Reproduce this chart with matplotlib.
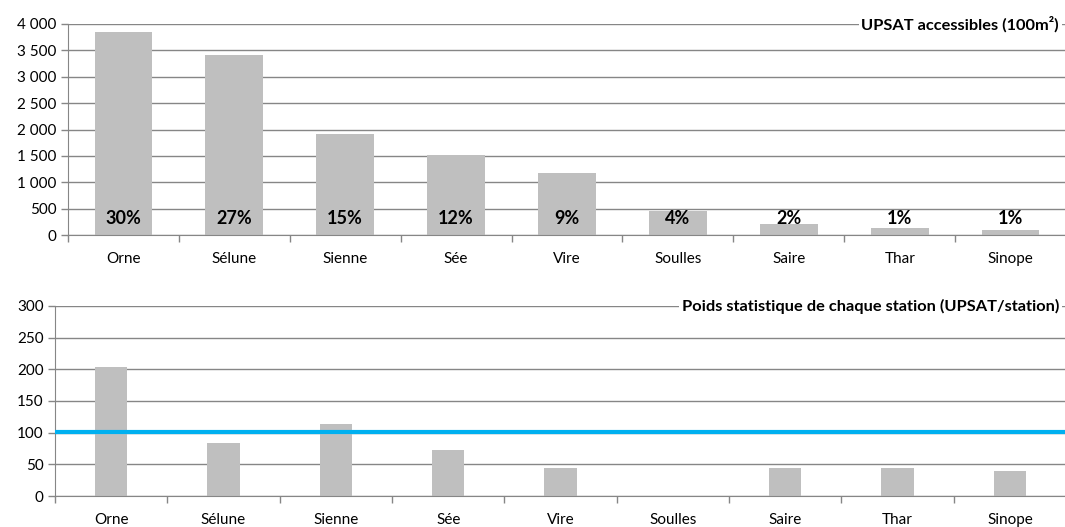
import numpy as np
import matplotlib.pyplot as plt
from matplotlib.ticker import FuncFormatter, FixedLocator

stations = ["Orne", "Sélune", "Sienne", "Sée", "Vire", "Soulles", "Saire", "Thar", "Sinope"]
upsat = [3850, 3415, 1915, 1515, 1175, 460, 203, 133, 100]
upsat_pct = ["30%", "27%", "15%", "12%", "9%", "4%", "2%", "1%", "1%"]
poids = [203, 83, 113, 73, 45, 0, 45, 45, 39]
poids_ref = 101

plt.rcParams['font.family'] = ['Lato', 'DejaVu Sans']

BAR = "#bfbfbf"
GRID = "#868686"
BLUE = "#00b0f0"


def style_axes(ax, ymax, ystep, fmt):
    x = np.arange(len(stations))
    ax.set_xlim(-0.5, len(stations) - 0.5)
    ax.set_ylim(0, ymax)
    ax.set_yticks(np.arange(0, ymax + 1, ystep))
    ax.yaxis.set_major_formatter(FuncFormatter(fmt))
    ax.set_xticks(x)
    ax.set_xticklabels(stations, fontsize=11)
    ax.xaxis.set_minor_locator(FixedLocator(np.arange(len(stations) + 1) - 0.5))
    ax.tick_params(axis="x", which="major", length=0, pad=12)
    ax.tick_params(axis="x", which="minor", length=5, color=GRID, width=1)
    ax.tick_params(axis="y", length=5, color=GRID, width=1, labelsize=11, pad=3)
    ax.grid(axis="y", color=GRID, linewidth=1)
    ax.set_axisbelow(True)
    for s in ["top", "right"]:
        ax.spines[s].set_visible(False)
    for s in ["left", "bottom"]:
        ax.spines[s].set_color(GRID)


def thousands(v, pos):
    return f"{int(v):,}".replace(",", " ")


def plain(v, pos):
    return f"{int(v)}"


fig = plt.figure(figsize=(10.65, 5.27), dpi=100)

ax1 = fig.add_axes([0.0638, 0.554, 0.9372, 0.4005])
x = np.arange(len(stations))
ax1.bar(x, upsat, width=0.52, color=BAR, zorder=2)
style_axes(ax1, 4000, 500, thousands)
for xi, p in zip(x, upsat_pct):
    ax1.text(xi, 320, p, ha="center", va="center", fontsize=13,
             fontweight="bold", zorder=3)
ax1.text(0.993, 1.0, "UPSAT accessibles (100m²)", transform=ax1.transAxes,
         ha="right", va="center", fontsize=11.8, fontweight="bold",
         bbox=dict(facecolor="white", edgecolor="none", pad=2), zorder=4)

ax2 = fig.add_axes([0.0516, 0.0588, 0.9494, 0.3606])
ax2.bar(x, poids, width=0.29, color=BAR, zorder=2)
style_axes(ax2, 300, 50, plain)
ax2.axhline(poids_ref, color=BLUE, linewidth=3, zorder=3)
ax2.text(0.993, 1.0, "Poids statistique de chaque station (UPSAT/station)",
         transform=ax2.transAxes, ha="right", va="center", fontsize=11.8,
         fontweight="bold", bbox=dict(facecolor="white", edgecolor="none", pad=2),
         zorder=4)

fig.savefig("out.png", dpi=100)
